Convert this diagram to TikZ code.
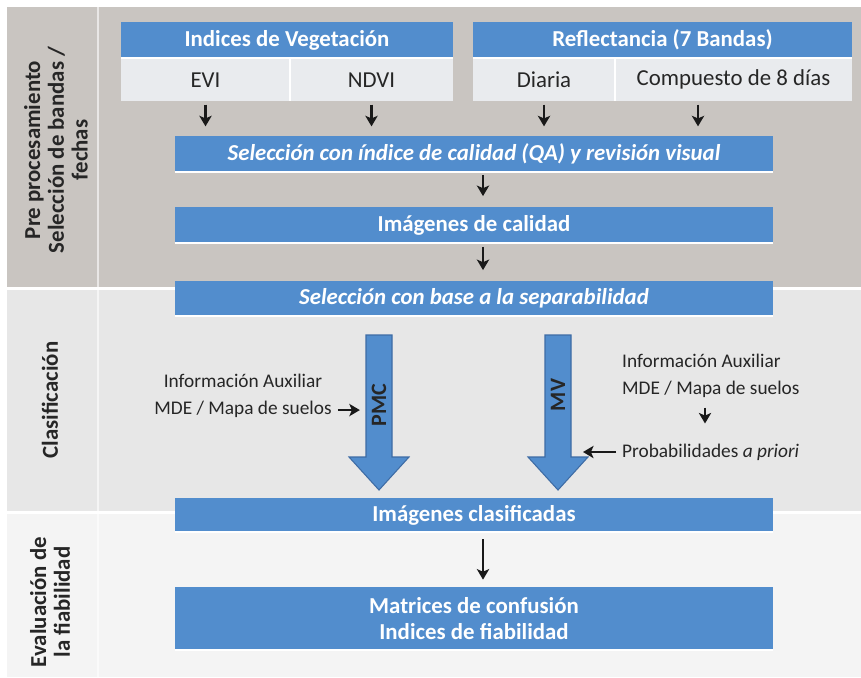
\documentclass[tikz,border=0pt]{standalone}
\usepackage{fontspec}
\setmainfont{Carlito}
\usetikzlibrary{positioning,arrows.meta}

\definecolor{bandA}{RGB}{201,197,193}
\definecolor{bandB}{RGB}{231,231,231}
\definecolor{bandC}{RGB}{244,244,244}
\definecolor{boxblue}{RGB}{82,141,205}
\definecolor{cellgray}{RGB}{233,235,238}
\definecolor{arrowedge}{RGB}{62,108,165}

\newcommand{\pxu}{0.02cm}

\begin{document}
\begin{tikzpicture}[x=0.02cm, y=-0.02cm,
  hdr/.style={fill=boxblue, text=white, font=\bfseries\fontsize{13}{15}\selectfont, inner sep=0pt, minimum height=36*\pxu},
  cell/.style={fill=cellgray, text=black!85, font=\fontsize{13}{15}\selectfont, inner sep=0pt, minimum height=42*\pxu},
  procbox/.style={fill=boxblue, text=white, font=\bfseries\fontsize{13}{15}\selectfont, inner sep=0pt, minimum width=598*\pxu, minimum height=36*\pxu, align=center},
  sidelabel/.style={rotate=90, font=\bfseries\fontsize{13}{13.5}\selectfont, align=center, text=black!85},
  note/.style={font=\fontsize{11}{15.5}\selectfont, text=black!85},
  flow/.style={-{Stealth[length=6pt, width=7pt, inset=1.5pt]}, line width=1.5pt, black!90},
  blockarrow/.style={fill=boxblue, draw=arrowedge, line width=0.6pt},
]
\useasboundingbox (0,0) rectangle (861,677);
\fill[white] (0,0) rectangle (861,677);

% background bands
\fill[bandA] (7,7) rectangle (861,287);
\fill[bandB] (7,290) rectangle (861,511);
\fill[bandC] (7,514) rectangle (861,677);
\draw[white, opacity=0.6, line width=1.2pt] (98,7) -- (98,677);

% side labels
\node[sidelabel] (pre) at (56,150) {Pre procesamiento\\Selección de bandas /\\fechas};
\node[sidelabel] (cls) at (50,400) {Clasificación};
\node[sidelabel] (eva) at (50,602) {Evaluación de\\la fiabilidad};

% input tables
\node[hdr, minimum width=332*\pxu] (veg) at (287,40) {Indices de Vegetación};
\node[hdr, minimum width=379*\pxu] (refl) at (662.5,40) {Reflectancia (7 Bandas)};
\node[cell, minimum width=169*\pxu, anchor=north west] (evi) at (veg.south west) {EVI};
\node[cell, minimum width=163*\pxu, anchor=north east] (ndvi) at (veg.south east) {NDVI};
\node[cell, minimum width=142*\pxu, anchor=north west] (diaria) at (refl.south west) {Diaria};
\node[cell, minimum width=237*\pxu, anchor=north east] (comp) at (refl.south east) {Compuesto de 8 días};
\foreach \c in {evi,diaria}
  \draw[white, line width=1pt] (\c.north east) -- (\c.south east);
\foreach \h in {veg,refl}
  \draw[white, line width=1.2pt] (\h.south west) -- (\h.south east);

% processing chain
\node[procbox] (qa) at (474,153.5) {\itshape Selección con índice de calidad (QA) y revisión visual};
\node[procbox] (cal) at (474,225) {Imágenes de calidad};
\node[procbox, minimum height=35*\pxu] (sep) at (474,298.5) {\itshape Selección con base a la separabilidad};
\node[procbox, minimum height=34*\pxu] (clas) at (474,515) {Imágenes clasificadas};
\node[procbox, minimum height=63*\pxu] (mat) at (474,618.5) {Matrices de confusión\\Indices de fiabilidad};
\foreach \b in {qa,cal,sep,clas,mat}
  \draw[white, line width=1.2pt] (\b.south west) -- (\b.south east);

\coordinate (mid) at (483,0);
\coordinate (compx) at (698,0);

\foreach \n in {evi,ndvi,diaria}
  \draw[flow, shorten <=2pt, shorten >=5pt] (\n.south) -- (\n.south |- qa.north);
\draw[flow, shorten <=2pt, shorten >=5pt] (comp.south -| compx) -- (qa.north -| compx);
\draw[flow, shorten <=2pt, shorten >=6pt] (qa.south -| mid) -- (cal.north -| mid);
\draw[flow, shorten <=2pt, shorten >=6pt] (cal.south -| mid) -- (sep.north -| mid);
\draw[flow, line width=1.1pt, shorten <=4pt, shorten >=4pt] (clas.south -| mid) -- (mat.north -| mid);

% classifiers
\foreach \cx/\nm/\lbl/\ly in {379/pmc/PMC/405, 558/mv/MV/395} {
  \filldraw[blockarrow] (\cx-13,335) -- (\cx+13,335) -- (\cx+13,457) -- (\cx+30,457)
    -- (\cx,490) -- (\cx-30,457) -- (\cx-13,457) -- cycle;
  \node[rotate=90, font=\bfseries\fontsize{12.5}{14}\selectfont, text=black!85] (\nm) at (\cx,\ly) {\lbl};
}

% auxiliary inputs
\node[note, align=center] (auxL) at (243,396) {Información Auxiliar\\MDE / Mapa de suelos};
\draw[flow] ([yshift=-8pt]auxL.east) -- ++(22,0);

\node[note, align=left, anchor=west] (auxR) at (616,376) {Información Auxiliar\\MDE / Mapa de suelos};
\node[note, anchor=west] (prior) at (616,452) {Probabilidades \textit{a priori}};
\coordinate (auxx) at (705,0);
\draw[flow, shorten <=2pt, shorten >=8pt] (auxR.south -| auxx) -- (prior.north -| auxx);
\draw[flow] (prior.west) -- ++(-33,0);
\end{tikzpicture}
\end{document}
